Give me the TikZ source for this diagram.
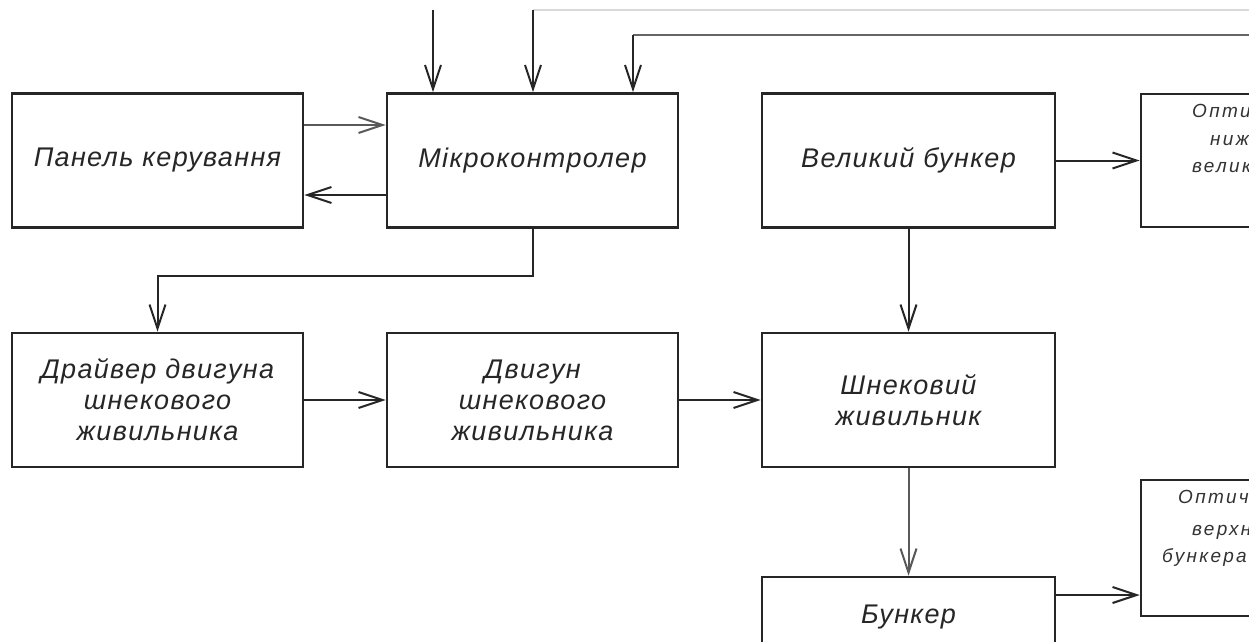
\documentclass[tikz,border=0pt]{standalone}
\usepackage{fontspec}
\setmainfont{Liberation Sans}
\newfontfamily\gostfont{Liberation Sans}[LetterSpace=5]
\newfontfamily\gostsmall{Liberation Sans}[LetterSpace=12]
\usetikzlibrary{arrows.meta,calc}
\tikzset{
  blk/.style={draw=black!85, line width=2.6pt, rectangle, inner sep=0pt,
    font=\gostfont\itshape\fontsize{27}{31}\selectfont, align=center, text=black!85},
  wide/.style={minimum width=291pt, minimum height=134pt},
  conn/.style={draw=black!85, line width=2pt, -{Straight Barb[length=24pt,width=16pt,line width=2pt]}},
  small/.style={font=\gostsmall\itshape\fontsize{19}{22}\selectfont, text=black!80, anchor=base west, inner sep=0pt}
}
\begin{document}
\begin{tikzpicture}[x=1pt,y=-1pt]
\useasboundingbox (0,0) rectangle (1249,641);
\clip (0,0) rectangle (1249,641);
\fill[white] (0,0) rectangle (1249,641);
% boxes
\node[blk,wide] (panel) at (157.5,160.5) {Панель керування};
\node[blk,wide] (micro) at (532.5,160.5) {Мікроконтролер};
\node[blk,minimum width=293pt,minimum height=134pt] (big) at (908.5,160.5) {Великий бункер};
\node[blk,wide] (driver) at (157.5,400) {Драйвер двигуна\\шнекового\\живильника};
\node[blk,wide] (motor) at (532.5,400) {Двигун\\шнекового\\живильника};
\node[blk,minimum width=293pt,minimum height=134pt] (feeder) at (908.5,400) {Шнековий\\живильник};
\node[blk,minimum width=293pt,minimum height=80pt] (bunker) at (908.5,617) {Бункер};
\node[blk,minimum width=200pt,minimum height=133pt] (opt1) at (1241,160.5) {};
\node[blk,minimum width=200pt,minimum height=136pt] (opt2) at (1241,548) {};
% texts of the cut-off sensor boxes
\node[small] (o1a) at (1192,117) {Оптичний};
\node[small] (o1b) at (1210,145) {нижнього};
\node[small] (o1c) at (1192,172) {великого};
\node[small] (o2a) at (1178,503) {Оптичний};
\node[small] (o2b) at (1192,535) {верхнього};
\node[small] (o2c) at (1162,562) {бункера};
% incoming lines at the top
\coordinate (in1) at (433,10);
\coordinate (in2) at (533,10);
\coordinate (in3) at (633,35);
\coordinate (in3e) at (1249,35);
\coordinate (in2e) at (1249,10);
\draw[black!15, line width=2pt] (in2) -- (in2e);
\draw[black!60, line width=2.4pt] (in3e) -- (in3);
\draw[conn] (in1) -- (in1 |- micro.north);
\draw[conn] (in2) -- (in2 |- micro.north);
\draw[conn] (in3) -- (in3 |- micro.north);
% connectors
\draw[conn,draw=black!65] ([yshift=35.5pt]panel.east) -- ([yshift=35.5pt]micro.west);
\draw[conn] ([yshift=-34.5pt]micro.west) -- ([yshift=-34.5pt]panel.east);
\draw[conn] (micro.south) -- ++(0,47) -| (driver.north);
\draw[conn] (driver.east) -- (motor.west);
\draw[conn] (motor.east) -- (feeder.west);
\draw[conn] (big.south) -- (feeder.north);
\draw[conn,draw=black!65] (feeder.south) -- (bunker.north);
\draw[conn] (big.east) -- (opt1.west);
\draw[conn] ([yshift=22pt]bunker.east) -- ([yshift=22pt]bunker.east -| opt2.west);
\end{tikzpicture}
\end{document}
